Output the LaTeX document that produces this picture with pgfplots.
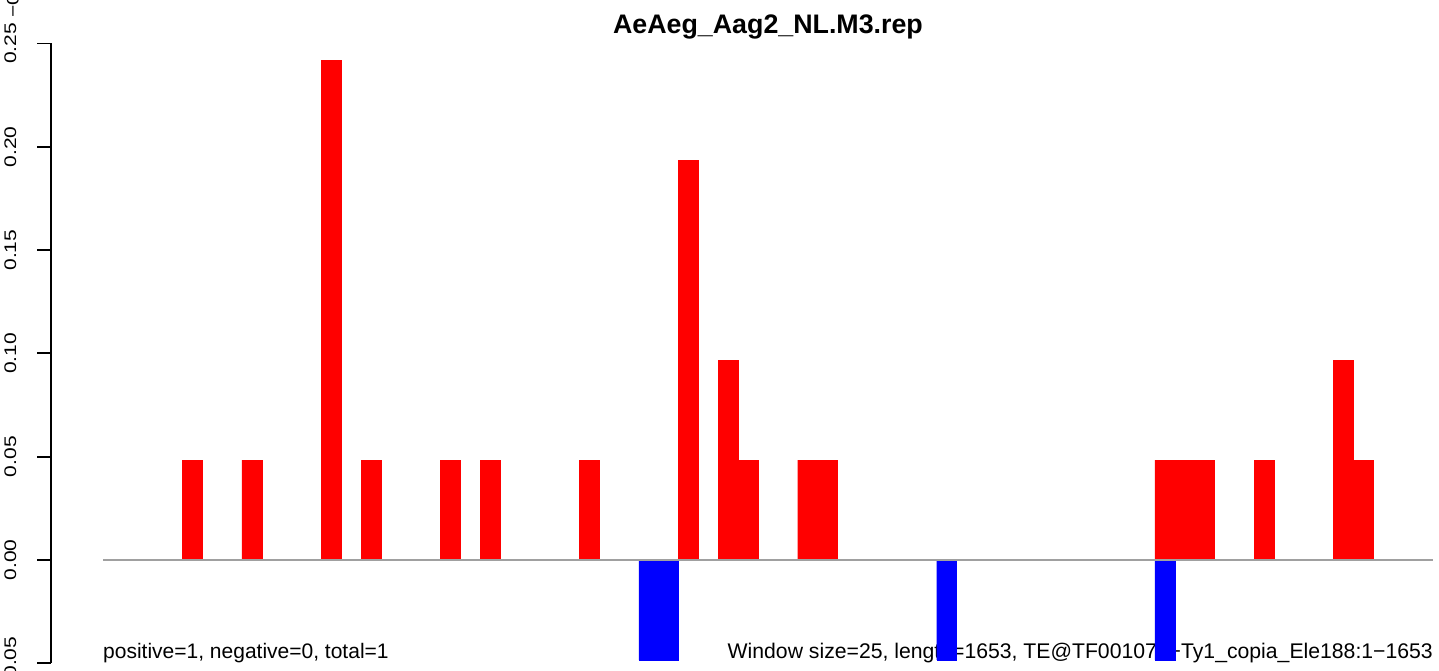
\documentclass[border=0pt]{standalone}
\usepackage{pgfplots}
\pgfplotsset{compat=1.18}
\usepackage{graphicx}
\usepackage{fontspec}
\setmainfont{Liberation Sans}
\definecolor{rred}{RGB}{255,0,0}
\definecolor{rblue}{RGB}{0,0,255}
\definecolor{zline}{RGB}{160,160,160}
\newcommand{\tl}[1]{\scalebox{1}[0.8]{#1}}
\begin{document}
\begin{tikzpicture}[x=1pt,y=1pt]
\useasboundingbox (0,0) rectangle (1439,671);
\node[anchor=base, font=\fontsize{26.8}{30}\selectfont\bfseries, inner sep=0pt] at (768,637.5) {AeAeg\_Aag2\_NL.M3.rep};
\node[anchor=base west, font=\fontsize{21}{25}\selectfont, inner sep=0pt] at (103,12) {positive=1, negative=0, total=1};
\node[anchor=base east, font=\fontsize{21.2}{25}\selectfont, inner sep=0pt] at (1433,12) {Window size=25, length=1653, TE@TF001077−Ty1\_copia\_Ele188:1−1653};
\node[rotate=90, anchor=base west, font=\fontsize{21}{25}\selectfont, inner sep=0pt] at (18.5,653.5) {\tl{−0.05}};
\begin{axis}[
  at={(50.7pt,7.7pt)}, anchor=south west,
  scale only axis, width=1388.3pt, height=619.8pt,
  xmin=-2.635, xmax=67.31, ymin=-0.05, ymax=0.25,
  axis x line=none, axis y line*=left,
  axis line style={line width=1.8pt, black, -},
  ytick={-0.05,0,0.05,0.1,0.15,0.2,0.25},
  yticklabels={\tl{−0.05},\tl{0.00},\tl{0.05},\tl{0.10},\tl{0.15},\tl{0.20},\tl{0.25}},
  tick align=outside, major tick length=13.4pt,
  ytick style={line width=1.8pt, black},
  yticklabel style={xshift=-21.2pt, rotate=90, anchor=base, inner sep=0pt, font=\fontsize{21}{25}\selectfont},
  clip=false,
]
\addplot[ybar, bar width=1, bar shift=0pt, fill=rred, draw=rred, line width=0.3pt] coordinates {
 (4.5,0.0484) (7.5,0.0484) (11.5,0.2420) (13.5,0.0484) (17.5,0.0484) (19.5,0.0484)
 (24.5,0.0484) (29.5,0.1936) (31.5,0.0968) (32.5,0.0484) (35.5,0.0484) (36.5,0.0484)
 (53.5,0.0484) (54.5,0.0484) (55.5,0.0484) (58.5,0.0484) (62.5,0.0968) (63.5,0.0484)
};
\addplot[ybar, bar width=1, bar shift=0pt, fill=rblue, draw=rblue, line width=0.3pt] coordinates {
 (27.5,-0.0484) (28.5,-0.0484) (42.5,-0.0484) (53.5,-0.0484)
};
\addplot[zline, line width=1.8pt, mark=none] coordinates {(0,0) (67,0)};
\end{axis}
\end{tikzpicture}
\end{document}
